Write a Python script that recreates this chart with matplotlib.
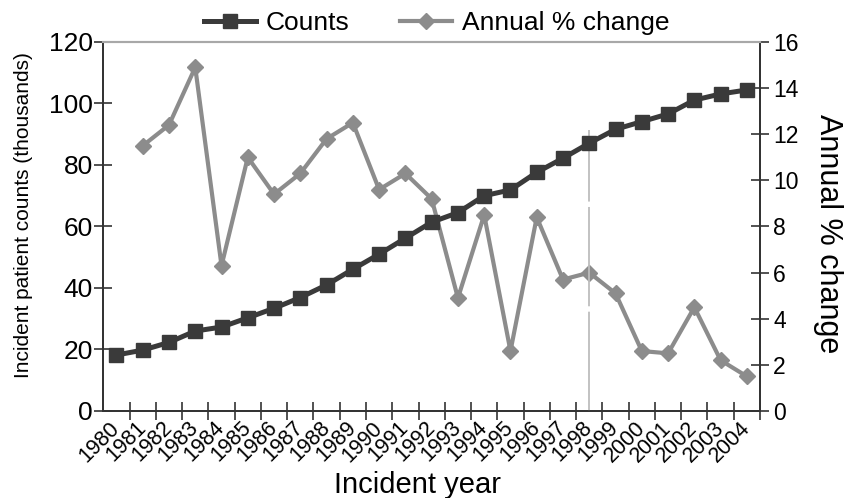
import matplotlib
matplotlib.use("Agg")
import matplotlib.pyplot as plt
import numpy as np

plt.rcParams["font.family"] = ["Liberation Sans", "DejaVu Sans"]

# Data
years = list(range(1980, 2005))
counts = [18.2, 19.8, 22.3, 26.0, 27.3, 30.3, 33.4, 36.9, 41.0, 46.1, 51.0,
          56.2, 61.4, 64.5, 70.0, 71.9, 77.6, 82.2, 87.1, 91.6, 94.1, 96.6,
          101.1, 103.1, 104.4]
pct_years = years[1:]
pct_change = [11.5, 12.4, 14.9, 6.3, 11.0, 9.4, 10.3, 11.8, 12.5, 9.6, 10.3,
              9.2, 4.9, 8.5, 2.6, 8.4, 5.7, 6.0, 5.1, 2.6, 2.5, 4.5, 2.2, 1.5]
marker_year = 1998
marker_top = 91.4

COUNT_COLOR = "#3a3a3a"
PCT_COLOR = "#8c8c8c"

x = np.arange(len(years))
x_pct = np.array([years.index(y) for y in pct_years])

fig = plt.figure(figsize=(8.44, 4.98), dpi=100)
ax = fig.add_axes([0.1224, 0.1747, 0.9005 - 0.1224, 0.9157 - 0.1747])
ax2 = ax.twinx()

ax.vlines(years.index(marker_year), 0, marker_top, color="#bdbdbd", lw=1.3,
          linestyles=(0, (55, 3)), zorder=1)

l1, = ax.plot(x, counts, color=COUNT_COLOR, lw=3.6, marker="s", ms=9.5,
              label="Counts", zorder=3)
l2, = ax2.plot(x_pct, pct_change, color=PCT_COLOR, lw=3.0, marker="D", ms=8,
               label="Annual % change", zorder=2)

ax.set_zorder(ax2.get_zorder() + 1)
ax.patch.set_visible(False)

ax.set_xlim(-0.5, len(years) - 0.5)
ax.set_ylim(0, 120)
ax2.set_ylim(0, 16)
ax.set_yticks(np.arange(0, 121, 20))
ax2.set_yticks(np.arange(0, 17, 2))

# category labels at centres, tick marks between categories
ax.set_xticks(x)
ax.set_xticklabels([str(y) for y in years], rotation=45, ha="right",
                   va="center", rotation_mode="anchor", fontsize=15.5)
ax.set_xticks(np.arange(0.5, len(years), 1), minor=True)
ax.tick_params(axis="x", which="major", length=0, pad=10)
ax.tick_params(axis="x", which="minor", direction="inout", length=13,
               width=1.2, color="#333333")

ax.tick_params(axis="y", direction="inout", length=13, width=1.2,
               color="#333333", labelsize=19, pad=1)
ax2.tick_params(axis="y", direction="inout", length=13, width=1.2,
                color="#333333", labelsize=16.5, pad=3)

for a in (ax, ax2):
    a.spines["top"].set_color("#a8a8a8")
    a.spines["top"].set_linewidth(1.5)
    for s in ("left", "right", "bottom"):
        a.spines[s].set_color("#333333")
        a.spines[s].set_linewidth(1.3)

ax.set_ylabel("Incident patient counts (thousands)", fontsize=15)
ax.yaxis.set_label_coords(-0.107, 0.53)
ax2.set_ylabel("Annual % change", fontsize=22, rotation=-90)
ax2.yaxis.set_label_coords(1.127, 0.48)
ax.set_xlabel("Incident year", fontsize=21)
ax.xaxis.set_label_coords(0.478, -0.162)

fig.legend(handles=[l1, l2], loc="center", bbox_to_anchor=(0.517, 0.953),
           ncol=2, frameon=False, fontsize=19, handlelength=2.0,
           handletextpad=0.35, columnspacing=1.9, borderaxespad=0)

fig.savefig("out.png", dpi=100)
